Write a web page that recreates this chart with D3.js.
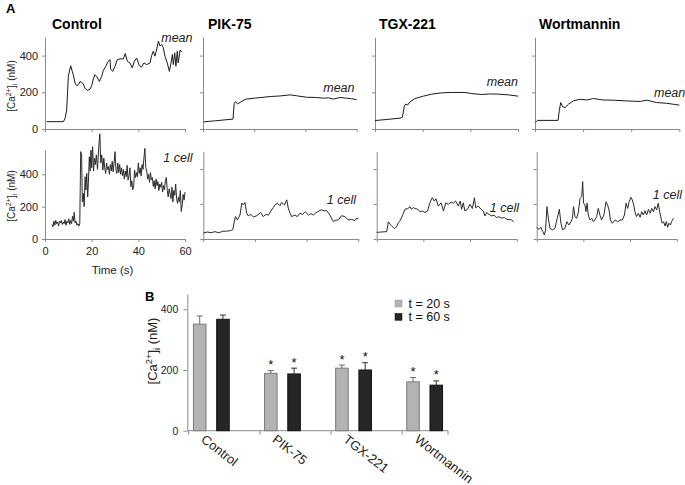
<!DOCTYPE html>
<html><head><meta charset="utf-8">
<script src="https://cdn.jsdelivr.net/npm/d3@7"></script>
<style>
body{margin:0;background:#fff}
svg{display:block;font-family:"Liberation Sans",Arial,sans-serif}
</style>
</head><body>
<svg id="chart" width="685" height="485"></svg>
<script>
// ---------------- DATA ----------------
const timeTicks = [0, 20, 40, 60];
const concTicks = [0, 200, 400];

const controlMean = [[0.7,40],[7.9,40],[8.6,58],[9.3,104],[10,287],[11,345],[11.7,314],[12.1,296],[12.9,250],[13.6,236],[14.3,241],[15,259],[15.7,254],[16.4,246],[17.1,223],[18.1,210],[19.3,217],[20,236],[20.7,272],[21.4,296],[22.1,287],[23.3,259],[24.3,287],[25,320],[26.1,342],[27.1,369],[27.9,378],[28.1,327],[29,314],[30,342],[31,378],[32.1,382],[33.6,382],[34.4,411],[35.3,369],[36.4,360],[37.4,333],[38.3,369],[39.3,387],[40.4,345],[41.4,338],[42.4,360],[43.6,351],[45,360],[45.7,400],[46.4,424],[47.1,397],[47.9,437],[48.6,479],[49.3,452],[50,461],[50.7,443],[51.4,397],[52.4,360],[53.3,314],[54,360],[54.6,406],[55,351],[55.6,415],[56.1,342],[56.7,424],[57.1,360],[57.9,430],[58.6,419]];

const controlCell = [[3,90],[3.4,75],[3.8,110],[4.2,85],[4.6,115],[5,95],[5.4,105],[5.8,80],[6.2,110],[6.6,100],[7,115],[7.4,90],[7.8,105],[8.2,95],[8.6,120],[9,85],[9.4,110],[9.8,100],[10.2,125],[10.6,90],[11,115],[11.4,95],[11.8,140],[12.2,110],[12.5,165],[12.9,100],[13.3,110],[13.7,85],[14.1,95],[14.5,80],[14.9,95],[15.3,540],[15.7,520],[16,230],[16.4,282],[16.8,200],[17.2,385],[17.5,303],[17.9,405],[18.3,260],[18.6,350],[19,508],[19.3,420],[19.7,549],[20,440],[20.4,570],[20.8,420],[21.2,500],[21.6,460],[22,520],[22.5,430],[23,560],[23.5,650],[23.9,470],[24.3,520],[24.8,426],[25.2,500],[25.6,440],[26,405],[26.4,470],[26.8,430],[27.2,447],[27.6,400],[28,460],[28.4,420],[28.8,480],[29.2,415],[29.6,470],[30,540],[30.4,430],[30.8,405],[31.2,470],[31.6,410],[32,460],[32.4,400],[32.8,440],[33.2,390],[33.6,430],[34,370],[34.4,420],[34.8,385],[35.2,455],[35.6,364],[36,390],[36.4,440],[36.8,323],[37.2,360],[37.6,303],[38,330],[38.4,425],[38.8,380],[39.2,410],[39.6,385],[40,470],[40.4,405],[40.8,440],[41.2,390],[41.6,460],[42,430],[42.4,500],[42.8,560],[43.2,440],[43.6,420],[44,370],[44.4,400],[44.8,350],[45.2,410],[45.6,365],[46,380],[46.4,325],[46.8,360],[47.2,310],[47.6,370],[48,330],[48.4,355],[48.8,300],[49.2,340],[49.6,320],[50,350],[50.4,290],[50.8,330],[51.2,305],[51.6,360],[52,380],[52.4,300],[52.8,260],[53.2,310],[53.6,280],[54,250],[54.4,320],[54.8,230],[55.2,300],[55.6,270],[56,340],[56.4,250],[56.8,220],[57.2,260],[57.6,230],[58,300],[58.4,170],[58.8,210],[59.2,275],[59.6,240],[60,290]];

const pikMean = [[0.3,39],[5,45],[11.7,54],[12.2,140],[12.6,149],[13.5,137],[14.5,145],[16.5,162],[20,168],[23,172],[26.2,177],[30,180],[34,186],[37,180],[40.5,173],[44,172],[47,168],[49,170],[50.9,163],[53.5,172],[56,168],[58,165],[60,160]];

const pikCell = [[0,34],[1.5,40],[3,36],[4.5,42],[6,36],[7.5,44],[9,45],[10.5,48],[11.4,53],[12.3,120],[12.5,128],[13.2,109],[14.2,137],[14.9,205],[15.5,195],[16.1,209],[16.8,148],[17.4,133],[18.4,140],[19.4,126],[20.7,133],[22.2,152],[23.2,128],[24.2,140],[25.2,137],[26.5,167],[27.1,180],[27.7,195],[28.7,205],[29.7,190],[30.3,209],[31.4,195],[32.3,224],[32.9,176],[33.6,147],[34.2,128],[35.5,137],[36.4,128],[37.4,147],[38.4,140],[39.4,156],[40.7,137],[41.6,145],[42.6,137],[43.6,150],[44.5,158],[45.8,167],[46.8,160],[47.7,163],[49,137],[50.3,100],[51.3,108],[52.3,109],[53.5,133],[54.8,128],[56.1,109],[57.4,112],[58.7,105],[59.4,120],[60,115]];

const tgxMean = [[0,46],[5,52],[10.5,59],[11.5,64],[12.3,125],[12.9,136],[13.7,131],[14.7,148],[16.8,166],[20.3,179],[23.8,190],[28,197],[32.2,199],[37.8,199],[40.6,193],[44.8,188],[48,191],[51.8,190],[56,186],[60,179]];

const tgxCell = [[0,38],[2,40],[4.3,42],[5,98],[5.7,85],[6.4,75],[7.6,60],[8.6,71],[9.3,94],[10,104],[11,132],[12.1,170],[13.3,174],[14.3,185],[14.9,170],[15.7,180],[16.4,174],[17.6,170],[18.6,155],[19.6,160],[20.7,151],[21.8,160],[22.8,207],[23.8,236],[24.7,217],[25.4,230],[26.4,188],[27.6,207],[28.6,160],[29.6,207],[30.7,198],[31.9,211],[32.8,204],[33.8,217],[35,188],[35.8,217],[36.4,170],[37.1,207],[37.8,160],[38.9,170],[40,198],[41,174],[41.9,236],[42.4,179],[43.6,188],[44.7,170],[45.7,160],[46.4,132],[47.1,151],[48.1,141],[49.3,132],[50.4,136],[51.4,123],[52.4,127],[53.6,119],[54.7,123],[55.7,113],[56.7,110],[57.8,110],[58.6,98]];

const wortMean = [[0.2,36],[1,47],[9.6,47],[10.1,100],[10.7,144],[11.5,122],[12.5,117],[13.9,135],[15.9,153],[18.7,162],[21.5,158],[24.3,166],[28.4,158],[32.6,157],[38.1,153],[43.7,150],[46.4,157],[50.6,144],[54.7,140],[57.5,135],[60,130]];

const wortCell = [[0,67],[1,55],[1.8,67],[2.6,42],[3.3,23],[3.8,52],[4.4,185],[5,118],[5.7,61],[6.7,52],[7.8,61],[8.8,118],[9.7,170],[10.4,90],[11.1,52],[12.1,61],[12.9,99],[13.8,80],[14.7,99],[15.3,118],[15.8,185],[16.4,128],[17.1,118],[17.8,150],[18.6,232],[19.3,242],[19.7,328],[20.1,204],[20.7,194],[21.1,156],[21.6,204],[22.1,137],[22.8,109],[23.6,118],[24.3,99],[24.9,109],[25.7,128],[26.4,175],[27.1,137],[27.8,109],[28.8,137],[29.7,213],[30.4,194],[31,166],[31.6,109],[32.4,90],[33.6,109],[34.7,99],[35.7,109],[36.7,109],[37.6,137],[38.3,204],[39,175],[39.6,213],[40.4,238],[41,223],[41.6,194],[42.1,156],[42.8,128],[43.6,147],[44.3,124],[45,156],[45.7,137],[46.4,162],[47.1,137],[47.9,170],[48.6,147],[49.3,175],[50,156],[50.7,185],[51.4,166],[52.1,204],[52.7,156],[53.3,118],[53.8,90],[54.4,99],[55,74],[55.6,99],[56.1,67],[56.7,90],[57.3,80],[57.8,99],[58.6,118]];

const categories = ["Control", "PIK-75", "TGX-221", "Wortmannin"];
const seriesNames = ["t = 20 s", "t = 60 s"];
const valuesT20 = [351, 189, 206, 161];
const errorsT20 = [27, 9, 10, 14];
const valuesT60 = [367, 187, 200, 150];
const errorsT60 = [14, 19, 24, 14];
const significant = [false, true, true, true];
const barTicks = [0, 200, 400];

// ---------------- DRAW ----------------
const svg = d3.select("#chart");
const AX = "#8a8a8a";

function yTitle(sel, size) {
  sel.attr("font-size", size).attr("fill", "#222").attr("text-anchor", "middle");
  sel.append("tspan").text("[Ca");
  sel.append("tspan").attr("dy", -size*0.38).attr("font-size", size*0.72).text("2+");
  sel.append("tspan").attr("dy", size*0.38).text("]");
  sel.append("tspan").attr("dy", size*0.22).attr("font-size", size*0.72).text("i");
  sel.append("tspan").attr("dy", -size*0.22).text(" (nM)");
}

const panels = [
  {title:"Control", tx:52, mean:controlMean, cell:controlCell, xt:[45,185], xb:[45,185], bMax:550, bTop:150,
   ml:[192.5,41.5,"end"], cl:[192.5,161.5,"end"], first:true},
  {title:"PIK-75", tx:208, mean:pikMean, cell:pikCell, xt:[203,356.7], xb:[203.3,358.3], bMax:500, bTop:151.5,
   ml:[354.5,91.5,"end"], cl:[356,204,"end"]},
  {title:"TGX-221", tx:379, mean:tgxMean, cell:tgxCell, xt:[375,518], xb:[376.7,516.7], bMax:500, bTop:151.5,
   ml:[518,86,"end"], cl:[519,211.5,"end"]},
  {title:"Wortmannin", tx:539, mean:wortMean, cell:wortCell, xt:[535,679.3], xb:[536.7,676.7], bMax:500, bTop:151.5,
   ml:[654,96.5,"start"], cl:[682,199,"end"]}
];

svg.append("text").attr("x", 6).attr("y", 13).attr("font-size", 13).attr("font-weight", "bold").text("A");

function trace(g, data, xr, y0, y1, ymax, showY, showX, color) {
  const x = d3.scaleLinear().domain([0, 60]).range(xr);
  const y = d3.scaleLinear().domain([0, ymax]).range([y0, y1]);
  const ya = g.append("g").attr("transform", `translate(${xr[0]},0)`)
    .call(d3.axisLeft(y).tickValues(concTicks).tickSize(3).tickSizeOuter(0).tickPadding(4)
      .tickFormat(showY ? d3.format("d") : ""));
  const xa = g.append("g").attr("transform", `translate(0,${y0})`)
    .call(d3.axisBottom(x).tickValues(timeTicks).tickSize(3).tickSizeOuter(0).tickPadding(5)
      .tickFormat(showX ? d3.format("d") : ""));
  [ya, xa].forEach(a => {
    a.select(".domain").attr("stroke", AX);
    a.selectAll(".tick line").attr("stroke", AX);
    a.selectAll(".tick text").attr("fill", "#222").attr("font-size", 11)
      .attr("font-family", '"Liberation Sans",Arial,sans-serif');
  });
  g.append("path").datum(data).attr("fill", "none").attr("stroke", color)
    .attr("stroke-width", 1).attr("stroke-linejoin", "round")
    .attr("d", d3.line().x(d => x(d[0])).y(d => y(d[1])));
}

panels.forEach(p => {
  svg.append("text").attr("x", p.tx).attr("y", 28.5).attr("font-size", 14)
    .attr("font-weight", "bold").text(p.title);
  const g = svg.append("g");
  trace(g, p.mean, p.xt, 129, 37.25, 500, !!p.first, false, "#1a1a1a");
  trace(g, p.cell, p.xb, 239, p.bTop, p.bMax, !!p.first, !!p.first, "#2a2a2a");
  g.append("text").attr("x", p.ml[0]).attr("y", p.ml[1]).attr("text-anchor", p.ml[2])
    .attr("font-size", 12.5).attr("font-style", "italic").attr("fill", "#222").text("mean");
  g.append("text").attr("x", p.cl[0]).attr("y", p.cl[1]).attr("text-anchor", p.cl[2])
    .attr("font-size", 12.5).attr("font-style", "italic").attr("fill", "#222").text("1 cell");
});

yTitle(svg.append("text").attr("transform", "translate(15,86) rotate(-90)"), 10);
yTitle(svg.append("text").attr("transform", "translate(15,196) rotate(-90)"), 10);
svg.append("text").attr("x", 112.5).attr("y", 274).attr("text-anchor", "middle")
  .attr("font-size", 11.5).attr("fill", "#222").text("Time (s)");

// ---------------- PANEL B ----------------
svg.append("text").attr("x", 145).attr("y", 300.5).attr("font-size", 13).attr("font-weight", "bold").text("B");

const yB = d3.scaleLinear().domain([0, 450]).range([430.7, 294.1]);
const xB = d3.scaleBand().domain(categories).range([175.8, 460.2]).paddingInner(0).paddingOuter(0);
const xS = d3.scaleBand().domain(seriesNames).range([0, xB.bandwidth()]).paddingInner(0.46).paddingOuter(0.76);

const bg = svg.append("g");
const yAx = bg.append("g").attr("transform", "translate(187.3,0)")
  .call(d3.axisLeft(yB).tickValues(barTicks).tickSize(4).tickSizeOuter(0).tickPadding(5).tickFormat(d3.format("d")));
yAx.select(".domain").attr("stroke", AX);
yAx.selectAll(".tick line").attr("stroke", AX);
yAx.selectAll(".tick text").attr("fill", "#222").attr("font-size", 10.5)
  .attr("font-family", '"Liberation Sans",Arial,sans-serif');

// x axis line + ticks between categories
bg.append("line").attr("x1", 187.3).attr("x2", 448).attr("y1", yB(0)).attr("y2", yB(0)).attr("stroke", AX);
bg.selectAll(".xt").data(categories).enter().append("line")
  .attr("x1", d => xB(d) + 13).attr("x2", d => xB(d) + 13)
  .attr("y1", yB(0)).attr("y2", yB(0) + 4).attr("stroke", AX);
bg.append("line").attr("x1", 448).attr("x2", 448).attr("y1", yB(0)).attr("y2", yB(0) + 4).attr("stroke", AX);

const series = [
  {name: seriesNames[0], vals: valuesT20, errs: errorsT20, fill: "#b3b3b3", stroke: "#7a7a7a", err: "#6a6a6a"},
  {name: seriesNames[1], vals: valuesT60, errs: errorsT60, fill: "#262626", stroke: "#111", err: "#333"}
];

series.forEach(s => {
  categories.forEach((c, i) => {
    const x0 = xB(c) + xS(s.name), w = xS.bandwidth(), cx = x0 + w / 2;
    bg.append("rect").attr("x", x0).attr("y", yB(s.vals[i])).attr("width", w)
      .attr("height", yB(0) - yB(s.vals[i])).attr("fill", s.fill).attr("stroke", s.stroke).attr("stroke-width", 1);
    const top = yB(s.vals[i] + s.errs[i]);
    bg.append("line").attr("x1", cx).attr("x2", cx).attr("y1", yB(s.vals[i])).attr("y2", top).attr("stroke", s.err);
    bg.append("line").attr("x1", cx - 3).attr("x2", cx + 3).attr("y1", top).attr("y2", top).attr("stroke", s.err);
    if (significant[i]) {
      bg.append("text").attr("x", cx).attr("y", top - 1.5).attr("text-anchor", "middle")
        .attr("font-size", 13).attr("fill", "#111").text("*");
    }
  });
});

// category labels
categories.forEach(c => {
  bg.append("text").attr("transform", `translate(${xB(c) + xB.bandwidth()/2 - 11},441) rotate(38)`)
    .attr("font-size", 13).attr("fill", "#222").text(c);
});

// legend
series.forEach((s, i) => {
  bg.append("rect").attr("x", 395).attr("y", 300 + i * 13.3).attr("width", 7).attr("height", 7)
    .attr("fill", s.fill).attr("stroke", i ? "#111" : "#999").attr("stroke-width", 0.5);
  bg.append("text").attr("x", 408.5).attr("y", 307.5 + i * 13.3).attr("font-size", 12.5).attr("fill", "#111").text(s.name);
});

yTitle(bg.append("text").attr("transform", "translate(157,351) rotate(-90)"), 13);
</script>
</body></html>
